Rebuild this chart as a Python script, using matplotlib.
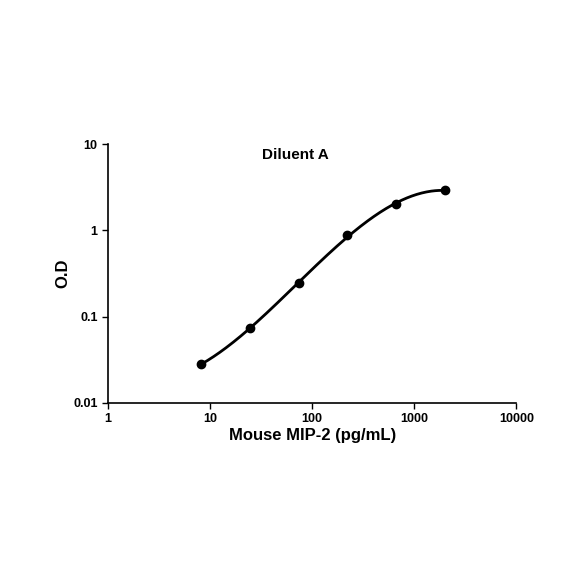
import matplotlib
matplotlib.use('Agg')
import matplotlib.pyplot as plt
import numpy as np

plt.rcParams['font.family'] = ['Liberation Sans', 'DejaVu Sans']

conc = [8.23, 24.7, 74.1, 222, 667, 2000]
od = [0.0283, 0.074, 0.246, 0.88, 2.02, 2.94]

fig = plt.figure(figsize=(5.84, 5.84), dpi=100)
ax = fig.add_axes([0.185, 0.31, 0.699, 0.443])

# smooth curve through the points in log-log space
lx, ly = np.log10(conc), np.log10(od)
coef = np.polyfit(lx, ly, 3)
xs = np.linspace(lx[0], lx[-1], 200)
ax.plot(10 ** xs, 10 ** np.polyval(coef, xs), color='black', lw=2)
ax.plot(conc, od, 'o', color='black', ms=6)

ax.set_xscale('log')
ax.set_yscale('log')
ax.set_xlim(1, 10000)
ax.set_ylim(0.01, 10)
ax.set_xticks([1, 10, 100, 1000, 10000])
ax.set_xticklabels(['1', '10', '100', '1000', '10000'], fontweight='bold')
ax.set_yticks([0.01, 0.1, 1, 10])
ax.set_yticklabels(['0.01', '0.1', '1', '10'], fontweight='bold')
ax.minorticks_off()
ax.tick_params(labelsize=9, direction='out', length=4, width=1)
for s in ['top', 'right']:
    ax.spines[s].set_visible(False)
for s in ['left', 'bottom']:
    ax.spines[s].set_linewidth(1.2)

ax.set_xlabel('Mouse MIP-2 (pg/mL)', fontsize=12, fontweight='bold', labelpad=2)
ax.set_ylabel('O.D', fontsize=12, fontweight='bold', labelpad=2)
ax.text(0.46, 0.96, 'Diluent A', transform=ax.transAxes, ha='center', va='center',
        fontsize=11, fontweight='bold')

fig.savefig('out.png', dpi=100)
